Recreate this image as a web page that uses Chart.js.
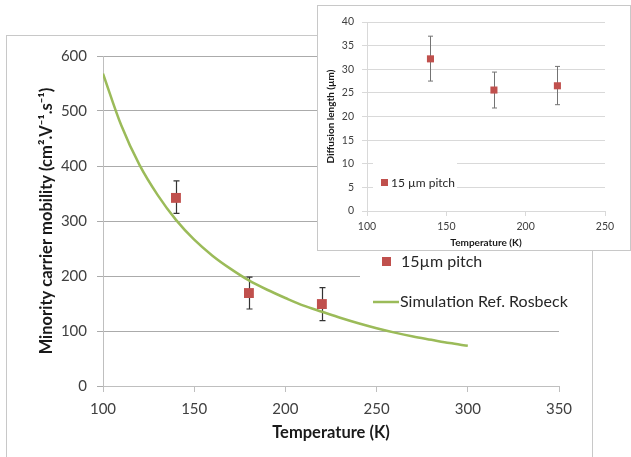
<!DOCTYPE html>
<html>
<head>
<meta charset="utf-8">
<script src="https://cdn.jsdelivr.net/npm/chart.js@4.4.1/dist/chart.umd.min.js"></script>
<style>
  body { margin: 0; background: #fff; width: 631px; height: 457px; overflow: hidden; position: relative; }
  #mainBorder { position: absolute; left: 6px; top: 35px; width: 585px; height: 440px; border: 1px solid #c8c8c8; }
  #mainWrap { position: absolute; left: 0; top: 0; width: 631px; height: 457px; }
  #insetWrap { position: absolute; left: 317px; top: 5px; width: 312px; height: 244px; border: 1px solid #c8c8c8; background: #fff; }
</style>
</head>
<body>
<div id="mainBorder"></div>
<div id="mainWrap"><canvas id="mainChart" width="631" height="457"></canvas></div>
<div id="insetWrap"><canvas id="insetChart" width="312" height="244"></canvas></div>
<script>
// measured points (15 um pitch)
let tempPoints = [140, 180, 220];
let mobility = [342, 169, 149];
let mobilityHigh = [373, 198, 179];
let mobilityLow = [314, 140, 119];

// simulation curve, Rosbeck
let simTemps = [100, 110, 120, 130, 140, 150, 160, 170, 180, 190, 200, 210, 220, 230, 240, 250, 260, 270, 280, 290, 300];
let simMobility = [568, 474, 402, 347, 302, 266, 237, 213, 192, 175, 160, 146, 135, 124, 114, 105, 97, 90, 84, 78, 73];

// inset: diffusion length
let diffLength = [32.2, 25.6, 26.5];
let diffHigh = [37.0, 29.4, 30.6];
let diffLow = [27.5, 21.8, 22.5];

const fontName = 'Lato, "Liberation Sans", sans-serif';
const red = '#c0504d';
const green = '#9bbb59';

makeErrorBars = (highs, lows, color, cap, width) => ({
    id: 'errorBars',
    beforeDatasetsDraw(chart) {
        let ctx = chart.ctx;
        let xs = chart.scales.x;
        let ys = chart.scales.y;
        ctx.save();
        ctx.strokeStyle = color;
        ctx.lineWidth = width;
        for (let i = 0; i < tempPoints.length; i++) {
            let px = Math.round(xs.getPixelForValue(tempPoints[i])) + 0.5;
            let top = ys.getPixelForValue(highs[i]);
            let bot = ys.getPixelForValue(lows[i]);
            ctx.beginPath();
            ctx.moveTo(px, top); ctx.lineTo(px, bot);
            ctx.moveTo(px - cap, top); ctx.lineTo(px + cap, top);
            ctx.moveTo(px - cap, bot); ctx.lineTo(px + cap, bot);
            ctx.stroke();
        }
        ctx.restore();
    }
});

let mainLegend = {
    id: 'mainLegend',
    afterDraw(chart) {
        let ctx = chart.ctx;
        ctx.save();
        ctx.fillStyle = '#fff';
        ctx.fillRect(360, 246, 200, 72);
        ctx.fillStyle = red;
        ctx.fillRect(382, 257, 9, 9);
        ctx.strokeStyle = green;
        ctx.lineWidth = 2.5;
        ctx.beginPath();
        ctx.moveTo(373, 302); ctx.lineTo(399, 302);
        ctx.stroke();
        ctx.fillStyle = '#262626';
        ctx.font = '16px ' + fontName;
        ctx.textBaseline = 'middle';
        ctx.fillText('15µm pitch', 401, 262);
        ctx.fillText('Simulation Ref. Rosbeck', 400, 302);
        ctx.restore();
    }
};

let insetLegend = {
    id: 'insetLegend',
    afterDraw(chart) {
        let ctx = chart.ctx;
        ctx.save();
        ctx.fillStyle = '#fff';
        ctx.fillRect(55, 151, 84, 35);
        ctx.fillStyle = red;
        ctx.fillRect(63, 173, 7, 7);
        ctx.fillStyle = '#262626';
        ctx.font = '12px ' + fontName;
        ctx.textBaseline = 'middle';
        ctx.fillText('15 µm pitch', 73, 177);
        ctx.restore();
    }
};

let ctx1 = document.getElementById('mainChart').getContext('2d');
let mainChart = new Chart(ctx1, {
    type: 'scatter',
    data: {
        datasets: [{
            label: '15µm pitch',
            data: tempPoints.map((t, i) => ({x: t, y: mobility[i]})),
            pointStyle: 'rect',
            pointRadius: 7,
            backgroundColor: red,
            borderColor: red,
            borderWidth: 0
        }, {
            label: 'Simulation Ref. Rosbeck',
            data: simTemps.map((t, i) => ({x: t, y: simMobility[i]})),
            showLine: true,
            pointRadius: 0,
            borderColor: green,
            borderWidth: 2.5,
            cubicInterpolationMode: 'monotone'
        }]
    },
    options: {
        responsive: false,
        animation: false,
        layout: { padding: { left: 0, top: 56, right: 72, bottom: 0 } },
        plugins: { legend: { display: false }, tooltip: { enabled: false } },
        scales: {
            x: {
                type: 'linear', min: 100, max: 350,
                ticks: { stepSize: 50, color: '#404040', font: { family: fontName, size: 15 }, padding: 8 },
                grid: { drawOnChartArea: false, tickLength: 6, color: '#bfbfbf' },
                border: { color: '#bfbfbf' },
                title: { display: true, text: 'Temperature (K)', color: '#1a1a1a',
                    font: { family: fontName, size: 16.5, weight: 'bold' }, padding: { top: 0, bottom: 14 } },
                afterFit: s => { s.height = 71; }
            },
            y: {
                min: 0, max: 600,
                ticks: { stepSize: 100, color: '#404040', font: { family: fontName, size: 15 }, padding: 10 },
                grid: { color: '#ababab', tickLength: 6 },
                border: { color: '#bfbfbf' },
                title: { display: true, text: 'Minority carrier mobility (cm².V⁻¹.s⁻¹)', color: '#1a1a1a',
                    font: { family: fontName, size: 16.5, weight: 'bold' }, padding: { top: 37, bottom: 0 } },
                afterFit: s => { s.width = 103; }
            }
        }
    },
    plugins: [makeErrorBars(mobilityHigh, mobilityLow, '#333333', 3, 1.2), mainLegend]
});

let ctx2 = document.getElementById('insetChart').getContext('2d');
let insetChart = new Chart(ctx2, {
    type: 'scatter',
    data: {
        datasets: [{
            label: '15 µm pitch',
            data: tempPoints.map((t, i) => ({x: t, y: diffLength[i]})),
            pointStyle: 'rect',
            pointRadius: 5,
            backgroundColor: red,
            borderColor: red,
            borderWidth: 0
        }]
    },
    options: {
        responsive: false,
        animation: false,
        layout: { padding: { left: 0, top: 16, right: 25, bottom: 0 } },
        plugins: { legend: { display: false }, tooltip: { enabled: false } },
        scales: {
            x: {
                type: 'linear', min: 100, max: 250,
                ticks: { stepSize: 50, color: '#404040', font: { family: fontName, size: 10.5 }, padding: 4 },
                grid: { drawOnChartArea: false, tickLength: 5, color: '#d9d9d9' },
                border: { color: '#d9d9d9' },
                title: { display: true, text: 'Temperature (K)', color: '#1a1a1a',
                    font: { family: fontName, size: 10, weight: 'bold' }, padding: { top: 0, bottom: 1 } },
                afterFit: s => { s.height = 39; }
            },
            y: {
                min: 0, max: 40,
                ticks: { stepSize: 5, color: '#404040', font: { family: fontName, size: 10.5 }, padding: 8 },
                grid: { color: '#d9d9d9', tickLength: 5 },
                border: { color: '#d9d9d9' },
                title: { display: true, text: 'Diffusion length (µm)', color: '#1a1a1a',
                    font: { family: fontName, size: 10, weight: 'bold' }, padding: { top: 7, bottom: 0 } },
                afterFit: s => { s.width = 49; }
            }
        }
    },
    plugins: [makeErrorBars(diffHigh, diffLow, '#737373', 2.5, 1), insetLegend]
});
</script>
</body>
</html>
